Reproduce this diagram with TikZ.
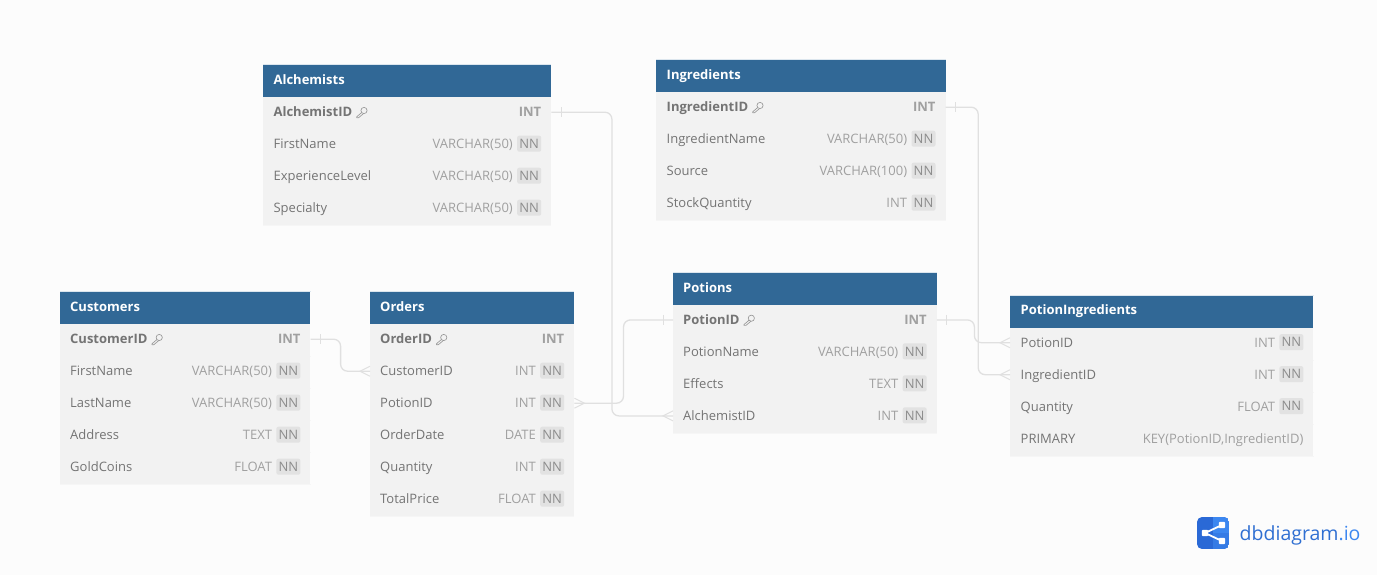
\documentclass[tikz,border=0pt]{standalone}
\usepackage{fontspec}
\setmainfont{Open Sans}
\definecolor{pagebg}{HTML}{FCFCFC}
\definecolor{headblue}{HTML}{316896}
\definecolor{headedge}{HTML}{DCE6EE}
\definecolor{rowbg}{HTML}{F2F2F2}
\definecolor{rowline}{HTML}{F6F6F6}
\definecolor{conncol}{HTML}{E0E0E0}
\definecolor{namecol}{HTML}{747474}
\definecolor{typecol}{HTML}{A0A0A0}
\definecolor{badgecol}{HTML}{E2E2E2}
\definecolor{badgetext}{HTML}{8C8C8C}
\definecolor{logodark}{HTML}{2A69D6}
\definecolor{logolight}{HTML}{3C87F0}
\definecolor{logotext}{HTML}{2F6FD2}
\tikzset{
  headbox/.style={fill=headblue,draw=none,anchor=north west,inner sep=0pt,minimum height=32pt},
  rowbox/.style={fill=rowbg,draw=none,anchor=north west,inner sep=0pt,minimum height=32pt},
  headtext/.style={anchor=base west,inner sep=0pt,text=white,font=\fontsize{13}{15}\selectfont\bfseries},
  nametext/.style={anchor=base west,inner sep=0pt,text=namecol,font=\fontsize{13}{15}\selectfont},
  pktext/.style={anchor=base west,inner sep=0pt,text=namecol,font=\fontsize{13}{15}\selectfont\bfseries},
  typetext/.style={anchor=base east,inner sep=0pt,text=typecol,font=\fontsize{13}{15}\selectfont},
  pktype/.style={anchor=base east,inner sep=0pt,text=typecol,font=\fontsize{13}{15}\selectfont\bfseries},
  nnbadge/.style={anchor=east,fill=badgecol,rounded corners=2pt,inner sep=0pt,minimum width=24pt,minimum height=16pt,text=badgetext,font=\fontsize{13}{15}\selectfont},
  conn/.style={draw=conncol,line width=1.3pt,rounded corners=7pt},
  mark line/.style={draw=conncol,line width=1pt},
  keyicon/.style={draw=namecol!75,line width=0.65pt,line join=round}
}
\newcommand{\namepad}{10pt}
\newcommand{\dbhead}[5]{% name,x,y,w,title
  \node[headbox,minimum width=#4pt] (#1) at (#2,#3) {};
  \draw[headedge,line width=0.7pt] ([yshift=0.35pt]#1.north west) -- ([yshift=0.35pt]#1.north east);
  \node[headtext] (#1-t) at ([xshift=\namepad,yshift=-3pt]#1.west) {#5};}
\newcommand{\dbbase}[4]{% name,x,y,w
  \node[rowbox,minimum width=#4pt] (#1) at (#2,#3) {};
  \draw[rowline,line width=0.6pt] (#1.south west) -- (#1.south east);}
\newcommand{\pkrow}[6]{% name,x,y,w,label,type
  \dbbase{#1}{#2}{#3}{#4}
  \node[pktext] (#1-n) at ([xshift=\namepad,yshift=-3.5pt]#1.west) {#5};
  \node[pktype] (#1-y) at ([xshift=-10pt,yshift=-3.5pt]#1.east) {#6};
  \begin{scope}[shift={(#1-n.base east)}]
    \draw[keyicon] (11.6,-6.2) circle (3.1pt);
    \draw[keyicon] (9.3,-4.2) -- (4.2,0.2) -- (4.2,1) -- (6.2,1) -- (11.2,-3.2);
  \end{scope}}
\newcommand{\nnrow}[6]{%
  \dbbase{#1}{#2}{#3}{#4}
  \node[nametext] (#1-n) at ([xshift=\namepad,yshift=-3.5pt]#1.west) {#5};
  \node[nnbadge] (#1-b) at ([xshift=-10pt,yshift=1.5pt]#1.east) {NN};
  \node[typetext] (#1-y) at ([xshift=-4pt,yshift=-3.5pt]#1.east -| #1-b.west) {#6};}
\newcommand{\plainrow}[6]{%
  \dbbase{#1}{#2}{#3}{#4}
  \node[nametext] (#1-n) at ([xshift=\namepad,yshift=-3.5pt]#1.west) {#5};
  \node[typetext] (#1-y) at ([xshift=-10pt,yshift=-3.5pt]#1.east) {#6};}
% connector marks: anchor point, direction (+1 right, -1 left)
\newcommand{\onemark}[2]{\draw[mark line] ([xshift=#2*10pt,yshift=6pt]#1) -- ([xshift=#2*10pt,yshift=-4pt]#1);}
\newcommand{\manymark}[2]{\draw[mark line] ([yshift=6pt]#1) -- ([xshift=#2*10pt,yshift=1pt]#1) -- ([yshift=-4pt]#1);}
\begin{document}
\begin{tikzpicture}[x=1pt,y=-1pt]
\path[use as bounding box,fill=pagebg] (0,0) rectangle (1377,575);

% Alchemists
\renewcommand{\namepad}{10.4pt}
\dbhead{alc}{263}{65}{288}{Alchemists}
\pkrow{a1}{263}{97}{288}{AlchemistID}{INT}
\nnrow{a2}{263}{129}{288}{FirstName}{VARCHAR(50)}
\nnrow{a3}{263}{161}{288}{ExperienceLevel}{VARCHAR(50)}
\nnrow{a4}{263}{193}{288}{Specialty}{VARCHAR(50)}

% Ingredients
\renewcommand{\namepad}{10.5pt}
\dbhead{ing}{656}{60}{289.3}{Ingredients}
\pkrow{i1}{656}{92}{289.3}{IngredientID}{INT}
\nnrow{i2}{656}{124}{289.3}{IngredientName}{VARCHAR(50)}
\nnrow{i3}{656}{156}{289.3}{Source}{VARCHAR(100)}
\nnrow{i4}{656}{188}{289.3}{StockQuantity}{INT}

% Customers
\renewcommand{\namepad}{10pt}
\dbhead{cus}{60}{292}{250.2}{Customers}
\pkrow{c1}{60}{324}{250.2}{CustomerID}{INT}
\nnrow{c2}{60}{356}{250.2}{FirstName}{VARCHAR(50)}
\nnrow{c3}{60}{388}{250.2}{LastName}{VARCHAR(50)}
\nnrow{c4}{60}{420}{250.2}{Address}{TEXT}
\nnrow{c5}{60}{452}{250.2}{GoldCoins}{FLOAT}

% Orders
\dbhead{ord}{370}{292}{204}{Orders}
\pkrow{o1}{370}{324}{204}{OrderID}{INT}
\nnrow{o2}{370}{356}{204}{CustomerID}{INT}
\nnrow{o3}{370}{388}{204}{PotionID}{INT}
\nnrow{o4}{370}{420}{204}{OrderDate}{DATE}
\nnrow{o5}{370}{452}{204}{Quantity}{INT}
\nnrow{o6}{370}{484}{204}{TotalPrice}{FLOAT}

% Potions
\dbhead{pot}{673}{273}{263.5}{Potions}
\pkrow{p1}{673}{304.7}{263.5}{PotionID}{INT}
\nnrow{p2}{673}{336.7}{263.5}{PotionName}{VARCHAR(50)}
\nnrow{p3}{673}{368.7}{263.5}{Effects}{TEXT}
\nnrow{p4}{673}{400.7}{263.5}{AlchemistID}{INT}

% PotionIngredients
\renewcommand{\namepad}{10.5pt}
\dbhead{pin}{1010}{295.3}{303.2}{PotionIngredients}
\nnrow{n1}{1010}{327.5}{303.2}{PotionID}{INT}
\nnrow{n2}{1010}{359.5}{303.2}{IngredientID}{INT}
\nnrow{n3}{1010}{391.5}{303.2}{Quantity}{FLOAT}
\plainrow{n4}{1010}{423.5}{303.2}{PRIMARY}{KEY(PotionID,IngredientID)}

% Connectors
\draw[conn] ([yshift=1pt]c1.east) -- ++(30,0) |- ([yshift=1pt]o2.west);
\onemark{c1.east}{1}
\manymark{o2.west}{-1}

\draw[conn] ([yshift=1pt]a1.east) -- ++(60.5,0) |- ([yshift=1pt]p4.west);
\onemark{a1.east}{1}
\manymark{p4.west}{-1}

\draw[conn] ([yshift=1pt]p1.west) -- ++(-49.5,0) |- ([yshift=1pt]o3.east);
\onemark{p1.west}{-1}
\manymark{o3.east}{1}

\draw[conn] ([yshift=1pt]i1.east) -- ++(32.5,0) |- ([yshift=1pt]n2.west);
\onemark{i1.east}{1}
\manymark{n2.west}{-1}

\draw[conn] ([yshift=1pt]p1.east) -- ++(37.5,0) |- ([yshift=1pt]n1.west);
\onemark{p1.east}{1}
\manymark{n1.west}{-1}

% Logo
\begin{scope}
  \clip[rounded corners=5pt] (1197,517) rectangle (1229,549);
  \fill[logodark] (1197,517) rectangle (1229,549);
  \fill[logolight] (1213,517) rectangle (1229,533);
  \fill[logolight!60!logodark] (1213,533) rectangle (1229,549);
\end{scope}
\draw[white,line width=1.8pt] (1222,525) -- (1205,533) -- (1222,541);
\fill[white,rounded corners=1pt] (1201.8,529.8) rectangle (1208.2,536.2);
\fill[white,rounded corners=1pt] (1218.8,521.8) rectangle (1225.2,528.2);
\fill[white,rounded corners=1pt] (1218.8,537.8) rectangle (1225.2,544.2);
\node[anchor=base west,inner sep=0pt,font=\fontsize{19.5}{22}\selectfont,text=logotext] (logo) at (1239.5,540) {dbdiagram\textcolor{logolight}{.io}};
\end{tikzpicture}
\end{document}
